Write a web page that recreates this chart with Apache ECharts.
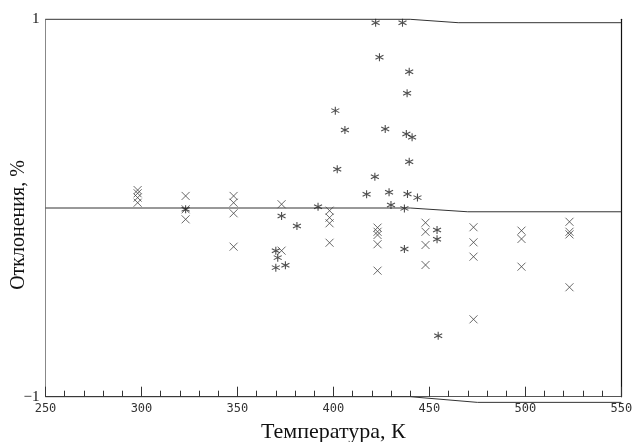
<!DOCTYPE html>
<html>
<head>
<meta charset="utf-8">
<script src="https://cdn.jsdelivr.net/npm/echarts@6/dist/echarts.min.js"></script>
<style>
  html, body { margin: 0; padding: 0; background: #fff; }
  #chart { width: 636px; height: 442px; }
</style>
</head>
<body>
<div id="chart"></div>
<script>
// кривые (границы и ноль)
var upperLine = [[250, 1], [440, 1], [465, 0.982], [550, 0.982]];
var zeroLine = [[250, 0], [440, 0], [470, -0.02], [550, -0.02]];
var lowerLine = [[250, -1], [440, -1], [475, -1.03], [550, -1.03]];

// точки "x"
var crossPts = [
  [298, 0.095], [298, 0.078], [298, 0.055], [298, 0.028],
  [323, 0.064], [323, -0.007], [323, -0.06],
  [348, 0.064], [348, 0.028], [348, -0.028], [348, -0.205],
  [373, 0.02], [373, -0.226],
  [398, -0.014], [398, -0.051], [398, -0.081], [398, -0.184],
  [423, -0.104], [423, -0.126], [423, -0.143], [423, -0.192], [423, -0.332],
  [448, -0.078], [448, -0.126], [448, -0.196], [448, -0.302],
  [473, -0.102], [473, -0.182], [473, -0.258], [473, -0.59],
  [498, -0.12], [498, -0.164], [498, -0.311],
  [523, -0.073], [523, -0.126], [523, -0.14], [523, -0.42]
];

// точки "*"
var starPts = [
  [323, -0.007], [373, -0.042],
  [370, -0.226], [371, -0.263], [370, -0.316], [375, -0.304],
  [381, -0.095], [392, 0.007],
  [422, 0.982], [436, 0.982], [424, 0.799], [439.5, 0.722], [438.4, 0.608],
  [401, 0.516], [406, 0.413], [427, 0.419], [438, 0.392], [441, 0.375],
  [439.5, 0.245], [402, 0.205], [421.6, 0.166],
  [417.3, 0.073], [429, 0.083], [438.6, 0.074], [443.8, 0.055],
  [430, 0.016], [437, -0.002],
  [437, -0.217], [454, -0.117], [454, -0.166], [454.6, -0.677]
];

var xTicks = [250, 300, 350, 400, 450, 500, 550];

var crossSym = 'path://M0,0L10,10M0,10L10,0';
var starSym = 'path://M5,0L5,10M0.7,2.5L9.3,7.5M0.7,7.5L9.3,2.5';

var chart = echarts.init(document.getElementById('chart'));
var serif = '"Liberation Serif", "DejaVu Serif", serif';

function lineSeries(data) {
  return {
    type: 'line',
    data: data,
    symbol: 'none',
    silent: true,
    clip: false,
    lineStyle: { color: '#333', width: 1 },
    z: 1
  };
}

chart.setOption({
  animation: false,
  grid: { left: 45.5, right: 14.7, top: 19.3, bottom: 45.3, containLabel: false, outerBoundsMode: 'none' },
  xAxis: {
    type: 'value',
    min: xTicks[0],
    max: xTicks[xTicks.length - 1],
    interval: 50,
    name: 'Температура, К',
    nameLocation: 'middle',
    nameGap: 25,
    nameMoveOverlap: false,
    nameTextStyle: { fontFamily: serif, fontSize: 22, color: '#111' },
    axisLine: { show: true, onZero: false, lineStyle: { color: '#555', width: 1 } },
    axisTick: { show: true, inside: true, length: 10, lineStyle: { color: '#333' } },
    minorTick: { show: true, splitNumber: 5, length: 6, lineStyle: { color: '#333' } },
    splitLine: { show: false },
    axisLabel: { margin: 6, fontFamily: '"DejaVu Sans Mono", monospace', fontSize: 12, color: '#333' }
  },
  yAxis: [{
    type: 'value',
    min: -1,
    max: 1,
    interval: 1,
    name: 'Отклонения, %',
    nameLocation: 'middle',
    nameGap: 17,
    nameMoveOverlap: false,
    nameTextStyle: { fontFamily: serif, fontSize: 20, color: '#111', padding: [0, 34, 0, 0] },
    axisLine: { show: true, onZero: false, lineStyle: { color: '#888', width: 1 } },
    axisTick: { show: false },
    splitLine: { show: false },
    axisLabel: {
      margin: 6,
      fontFamily: serif,
      fontSize: 15,
      color: '#111',
      formatter: function (v) { return v === 0 ? '' : (v < 0 ? '\u22121' : String(v)); }
    }
  }, {
    type: 'value',
    min: -1,
    max: 1,
    position: 'right',
    axisLine: { show: true, onZero: false, lineStyle: { color: '#111', width: 1.2 } },
    axisTick: { show: false },
    axisLabel: { show: false },
    splitLine: { show: false }
  }],
  series: [
    lineSeries(upperLine),
    lineSeries(zeroLine),
    lineSeries(lowerLine),
    {
      type: 'scatter',
      data: crossPts,
      symbol: crossSym,
      symbolSize: 8,
      itemStyle: { color: 'none', borderColor: '#444', borderWidth: 1 },
      z: 3
    },
    {
      type: 'scatter',
      data: starPts,
      symbol: starSym,
      symbolSize: 8,
      itemStyle: { color: 'none', borderColor: '#222', borderWidth: 1.1 },
      z: 4
    }
  ]
});
</script>
</body>
</html>
